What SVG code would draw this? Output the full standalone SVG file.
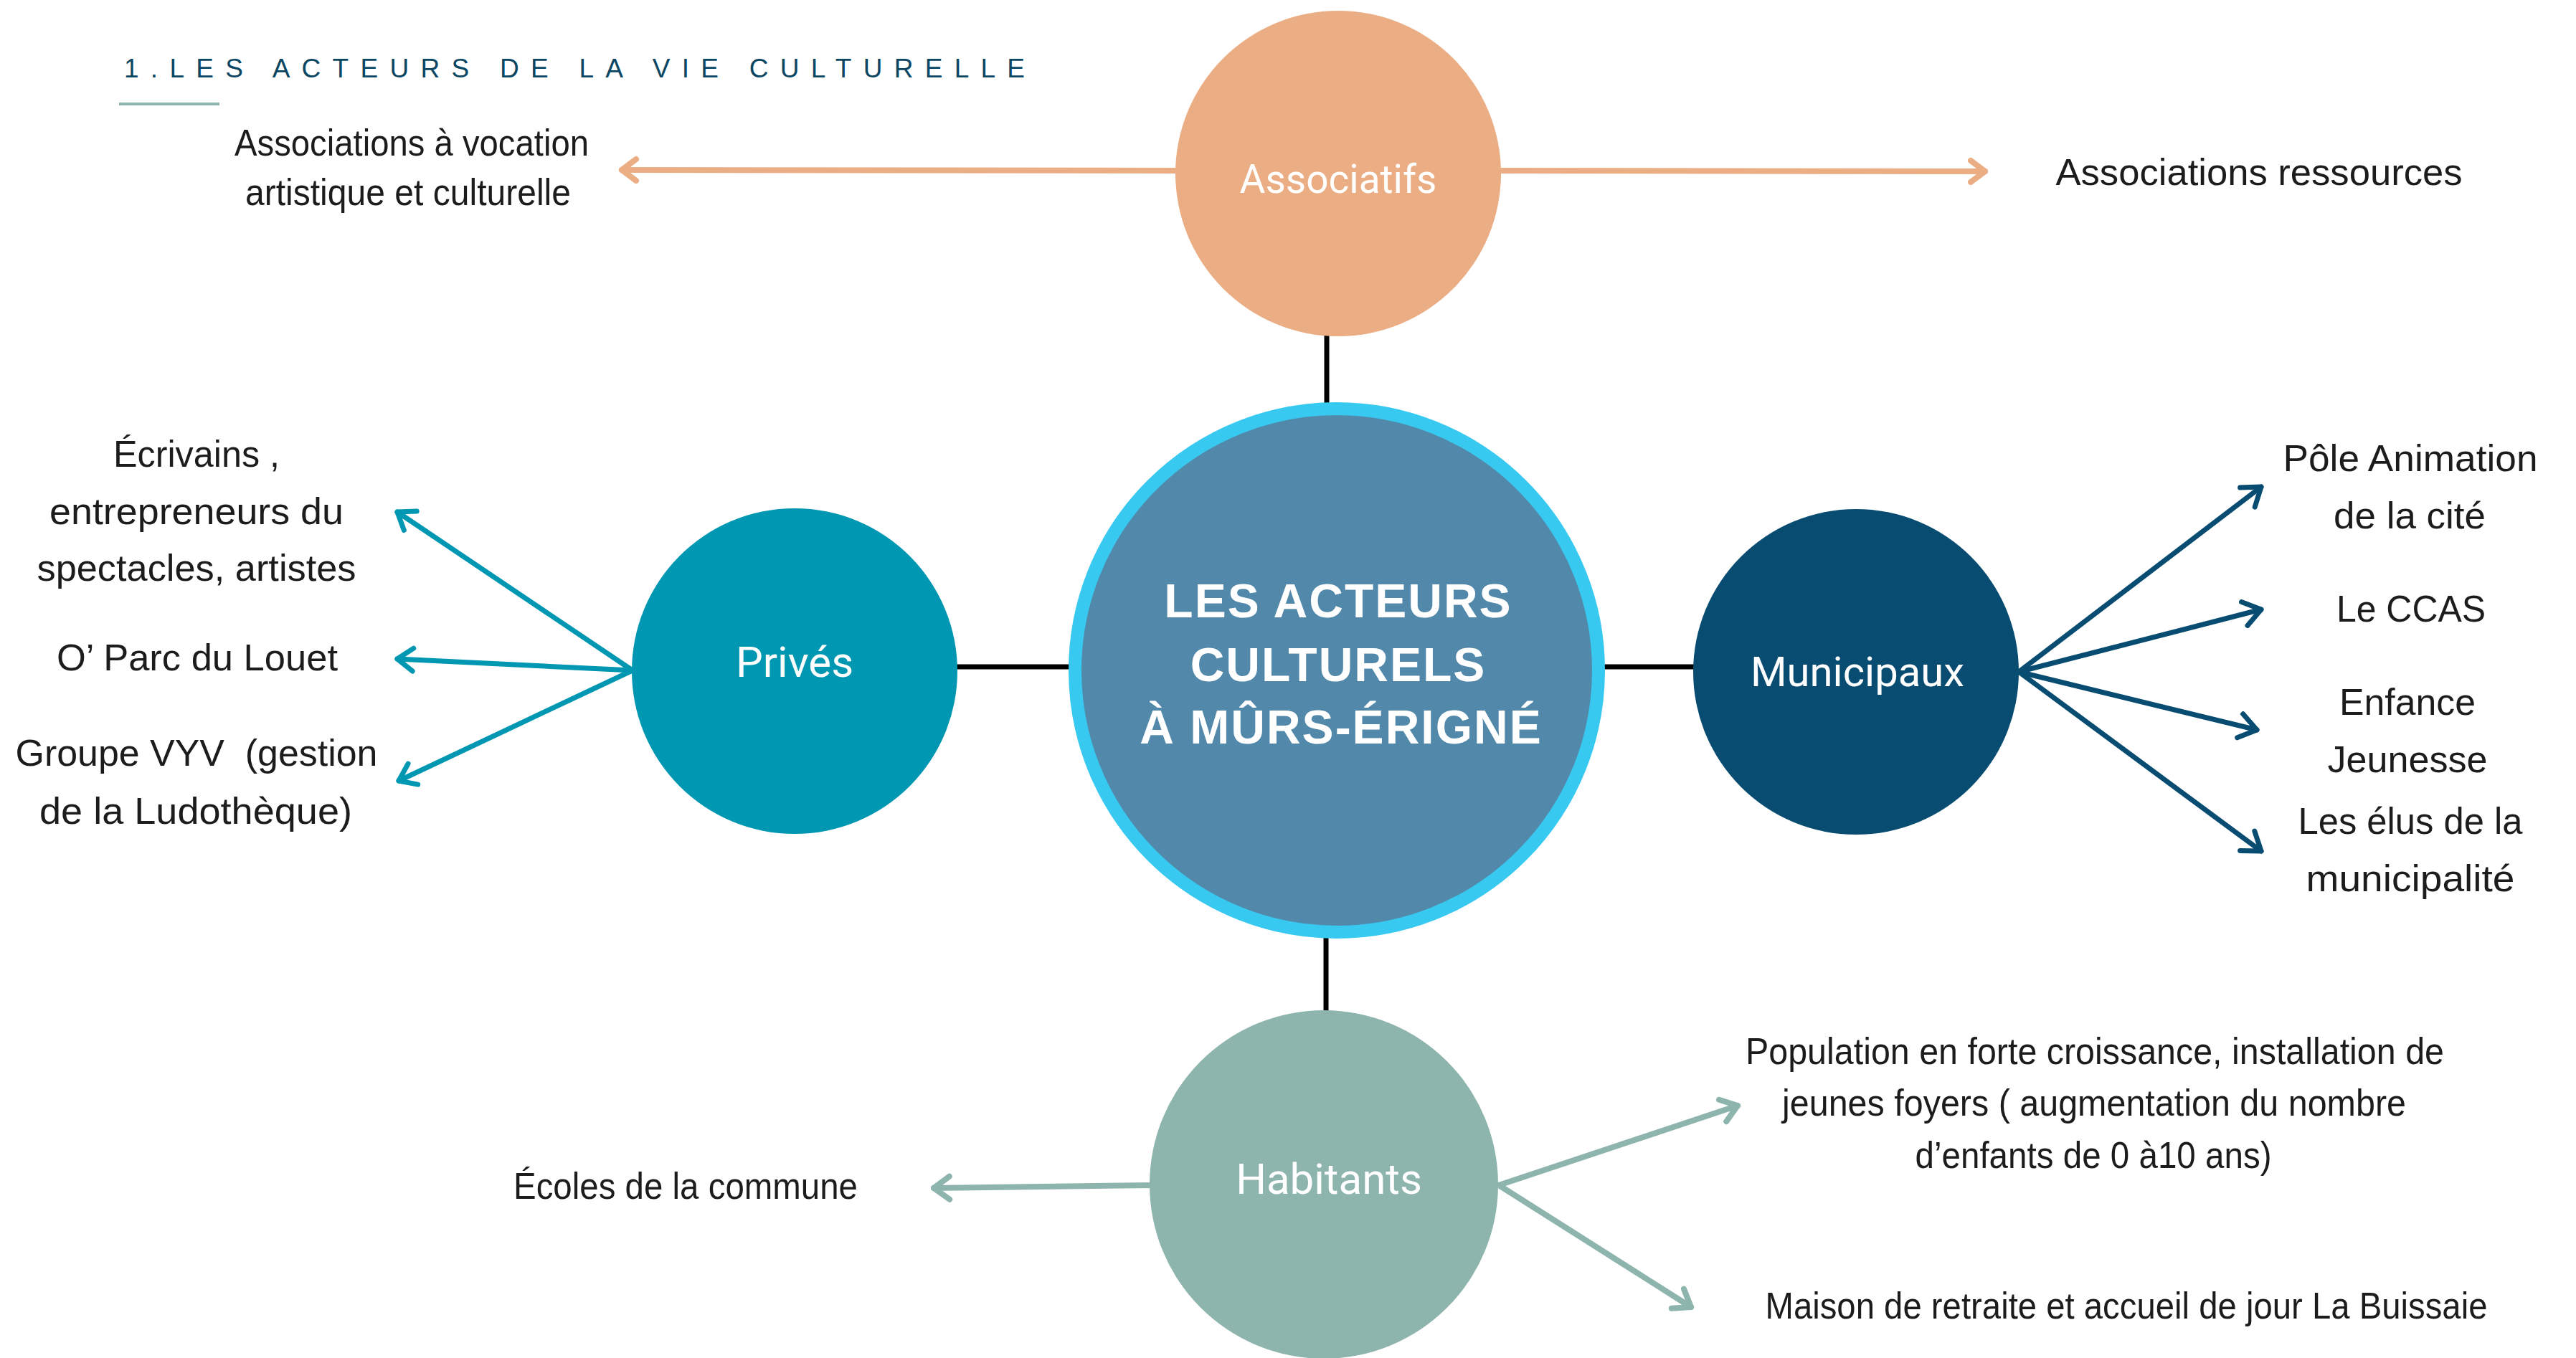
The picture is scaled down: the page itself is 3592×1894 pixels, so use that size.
<svg xmlns="http://www.w3.org/2000/svg" width="3592" height="1894" viewBox="0 0 3592 1894">
<style>
.lbl{font-family:"Liberation Sans",Arial,sans-serif;font-size:52px;fill:#1c1c1c;text-anchor:middle}
.node{font-family:Roboto,"Liberation Sans",sans-serif;fill:#ffffff;text-anchor:middle}
.ctr{font-family:"Liberation Sans",Arial,sans-serif;font-weight:bold;font-size:66px;fill:#ffffff;text-anchor:middle;letter-spacing:2px}
.blk{stroke:#000;stroke-width:7;fill:none}
.arr{fill:none;stroke-linecap:round}
</style>
<defs>
<marker id="mA" markerUnits="userSpaceOnUse" viewBox="-30 -25 40 50" refX="0" refY="0" markerWidth="40" markerHeight="50" orient="auto" overflow="visible"><path d="M-20,-15 L0,0 L-20,15" fill="none" stroke="#EBAD84" stroke-width="8" stroke-linecap="round" stroke-linejoin="round"/></marker>
<marker id="mP" markerUnits="userSpaceOnUse" viewBox="-30 -25 40 50" refX="0" refY="0" markerWidth="40" markerHeight="50" orient="auto" overflow="visible"><path d="M-22,-16 L0,0 L-22,16" fill="none" stroke="#0097B2" stroke-width="7" stroke-linecap="round" stroke-linejoin="round"/></marker>
<marker id="mM" markerUnits="userSpaceOnUse" viewBox="-30 -25 40 50" refX="0" refY="0" markerWidth="40" markerHeight="50" orient="auto" overflow="visible"><path d="M-24,-17 L0,0 L-24,17" fill="none" stroke="#094C71" stroke-width="7" stroke-linecap="round" stroke-linejoin="round"/></marker>
<marker id="mH" markerUnits="userSpaceOnUse" viewBox="-30 -25 40 50" refX="0" refY="0" markerWidth="40" markerHeight="50" orient="auto" overflow="visible"><path d="M-22,-16 L0,0 L-22,16" fill="none" stroke="#8EB5AD" stroke-width="8" stroke-linecap="round" stroke-linejoin="round"/></marker>
</defs>
<rect width="3592" height="1894" fill="#ffffff"/>

<g id="title">
<text x="173" y="108" font-family="'Liberation Sans',Arial,sans-serif" font-size="37" fill="#0B4662" textLength="1256" lengthAdjust="spacing">1.LES ACTEURS DE LA VIE CULTURELLE</text>
<rect x="166" y="143" width="140" height="4" fill="#8EB5AD"/>
</g>

<g id="connectors">
<line class="blk" x1="1850" y1="465" x2="1850" y2="566"/>
<line class="blk" x1="1332" y1="930" x2="1494" y2="930"/>
<line class="blk" x1="2232" y1="930" x2="2366" y2="930"/>
<line class="blk" x1="1849" y1="1305" x2="1849" y2="1412"/>
<line class="arr" x1="1642" y1="238" x2="867" y2="237" stroke="#EBAD84" stroke-width="8" marker-end="url(#mA)"/>
<line class="arr" x1="2090" y1="238" x2="2768" y2="239" stroke="#EBAD84" stroke-width="8" marker-end="url(#mA)"/>
<line class="arr" x1="882" y1="935" x2="554" y2="714" stroke="#0097B2" stroke-width="7" marker-end="url(#mP)"/>
<line class="arr" x1="882" y1="935" x2="554" y2="919" stroke="#0097B2" stroke-width="7" marker-end="url(#mP)"/>
<line class="arr" x1="882" y1="935" x2="556" y2="1089" stroke="#0097B2" stroke-width="7" marker-end="url(#mP)"/>
<line class="arr" x1="2815" y1="937" x2="3153" y2="679" stroke="#094C71" stroke-width="7" marker-end="url(#mM)"/>
<line class="arr" x1="2815" y1="937" x2="3153" y2="850" stroke="#094C71" stroke-width="7" marker-end="url(#mM)"/>
<line class="arr" x1="2815" y1="937" x2="3147" y2="1018" stroke="#094C71" stroke-width="7" marker-end="url(#mM)"/>
<line class="arr" x1="2815" y1="937" x2="3153" y2="1187" stroke="#094C71" stroke-width="7" marker-end="url(#mM)"/>
<line class="arr" x1="1606" y1="1653" x2="1302" y2="1657" stroke="#8EB5AD" stroke-width="8" marker-end="url(#mH)"/>
<line class="arr" x1="2090" y1="1653" x2="2423" y2="1542" stroke="#8EB5AD" stroke-width="8" marker-end="url(#mH)"/>
<line class="arr" x1="2090" y1="1653" x2="2358" y2="1823" stroke="#8EB5AD" stroke-width="8" marker-end="url(#mH)"/>
</g>

<g id="center">
<circle cx="1864" cy="935" r="365" fill="#5289AB" stroke="#38C9F1" stroke-width="18"/>
<text class="ctr" x="1866" y="861">LES ACTEURS</text>
<text class="ctr" x="1866" y="950">CULTURELS</text>
<text class="ctr" x="1870" y="1037">À MÛRS-ÉRIGNÉ</text>
</g>

<g id="associatifs">
<circle cx="1866" cy="242" r="227" fill="#EBAD84"/>
<text class="node" x="1866" y="269" font-size="55">Associatifs</text>
</g>

<g id="prives">
<circle cx="1108" cy="936" r="227" fill="#0097B2"/>
<text class="node" x="1108" y="944" font-size="60">Privés</text>
</g>

<g id="municipaux">
<circle cx="2588" cy="937" r="227" fill="#094C71"/>
<text class="node" x="2590" y="957" font-size="58">Municipaux</text>
</g>

<g id="habitants">
<circle cx="1846" cy="1652" r="243" fill="#8EB5AD"/>
<text class="node" x="1853" y="1665" font-size="60">Habitants</text>
</g>

<g id="labels-associatifs">
<text class="lbl" x="574" y="217" font-size="47" textLength="494" lengthAdjust="spacingAndGlyphs">Associations à vocation</text>
<text class="lbl" x="569" y="286" font-size="47" textLength="454" lengthAdjust="spacingAndGlyphs">artistique et culturelle</text>
<text class="lbl" x="3150" y="258" textLength="567" lengthAdjust="spacingAndGlyphs">Associations ressources</text>
</g>

<g id="labels-prives">
<text class="lbl" x="274" y="651" textLength="232" lengthAdjust="spacingAndGlyphs">Écrivains ,</text>
<text class="lbl" x="274" y="731" textLength="410" lengthAdjust="spacingAndGlyphs">entrepreneurs du</text>
<text class="lbl" x="274" y="810" textLength="445" lengthAdjust="spacingAndGlyphs">spectacles, artistes</text>
<text class="lbl" x="275" y="935" textLength="392" lengthAdjust="spacingAndGlyphs">O’ Parc du Louet</text>
<text class="lbl" x="274" y="1068" xml:space="preserve" textLength="505" lengthAdjust="spacingAndGlyphs">Groupe VYV  (gestion</text>
<text class="lbl" x="273" y="1149" textLength="436" lengthAdjust="spacingAndGlyphs">de la Ludothèque)</text>
</g>

<g id="labels-municipaux">
<text class="lbl" x="3361" y="657" textLength="355" lengthAdjust="spacingAndGlyphs">Pôle Animation</text>
<text class="lbl" x="3360" y="737" textLength="212" lengthAdjust="spacingAndGlyphs">de la cité</text>
<text class="lbl" x="3362" y="867" textLength="208" lengthAdjust="spacingAndGlyphs">Le CCAS</text>
<text class="lbl" x="3357" y="997" textLength="190" lengthAdjust="spacingAndGlyphs">Enfance</text>
<text class="lbl" x="3357" y="1077" textLength="223" lengthAdjust="spacingAndGlyphs">Jeunesse</text>
<text class="lbl" x="3361" y="1163" textLength="313" lengthAdjust="spacingAndGlyphs">Les élus de la</text>
<text class="lbl" x="3361" y="1243" textLength="291" lengthAdjust="spacingAndGlyphs">municipalité</text>
</g>

<g id="labels-habitants">
<text class="lbl" x="956" y="1672" font-size="48" textLength="480" lengthAdjust="spacingAndGlyphs">Écoles de la commune</text>
<text class="lbl" x="2921" y="1484" font-size="48" textLength="974" lengthAdjust="spacingAndGlyphs">Population en forte croissance, installation de</text>
<text class="lbl" x="2920" y="1556" font-size="48" textLength="870" lengthAdjust="spacingAndGlyphs">jeunes foyers ( augmentation du nombre</text>
<text class="lbl" x="2919" y="1629" font-size="48" textLength="497" lengthAdjust="spacingAndGlyphs">d’enfants de 0 à10 ans)</text>
<text class="lbl" x="2965" y="1839" font-size="48" textLength="1007" lengthAdjust="spacingAndGlyphs">Maison de retraite et accueil de jour La Buissaie</text>
</g>
</svg>
